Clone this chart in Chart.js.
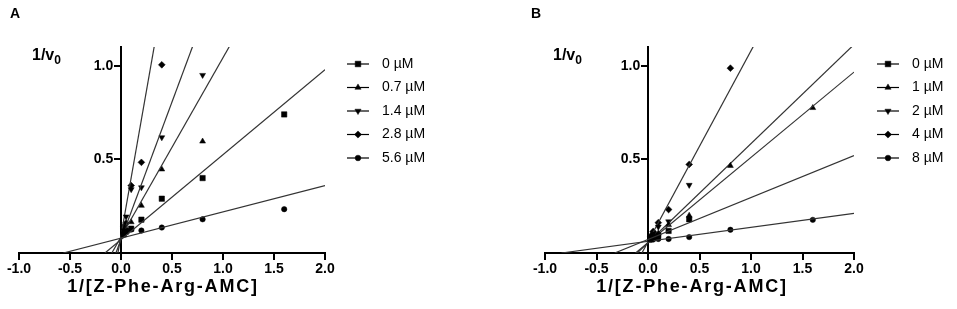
<!DOCTYPE html>
<html lang="en">
<head>
  <meta charset="UTF-8">
  <title>Lineweaver-Burk plots</title>
  <script src="https://cdn.jsdelivr.net/npm/chart.js"></script>
  <style>
    * { box-sizing: border-box; }
    body {
      margin: 0;
      width: 957px;
      height: 309px;
      background: white;
      position: relative;
      overflow: hidden;
      font-family: Arial, "Liberation Sans", Helvetica, sans-serif;
      color: #000;
    }
    canvas { position: absolute; top: 0; }
    #chartA { left: 0; }
    #chartB { left: 478px; }
    .txt {
      position: absolute;
      font-weight: bold;
      white-space: nowrap;
      line-height: 1;
    }
    .panel { font-size: 14px; }
    .ylab { font-size: 16px; }
    .ylab span { font-size: 12px; position: relative; top: 4px; }
    .xlab { font-size: 18px; letter-spacing: 1.8px; transform: translateX(-50%); }
  </style>
</head>
<body>
  <canvas id="chartA" width="478" height="309"></canvas>
  <canvas id="chartB" width="479" height="309"></canvas>

  <div class="txt panel" style="left:10px; top:6px;">A</div>
  <div class="txt panel" style="left:531px; top:6px;">B</div>
  <div class="txt ylab" style="left:32px; top:47px;">1/v<span>0</span></div>
  <div class="txt ylab" style="left:553px; top:47px;">1/v<span>0</span></div>
  <div class="txt xlab" style="left:163px; top:277px;">1/[Z-Phe-Arg-AMC]</div>
  <div class="txt xlab" style="left:692px; top:277px;">1/[Z-Phe-Arg-AMC]</div>

  <script>
    // 1/[S] values (substrate dilution series)
    const invSubstrate = [0.025, 0.05, 0.1, 0.2, 0.4, 0.8, 1.6];
    const xTicks = [-1.0, -0.5, 0.0, 0.5, 1.0, 1.5, 2.0];
    const yTicks = [0.5, 1.0];

    // panel A
    const labelsA = ['0 µM', '0.7 µM', '1.4 µM', '2.8 µM', '5.6 µM'];
    const a0   = [0.10, 0.115, 0.13, 0.178, 0.29, 0.40, 0.74];
    const a07  = [0.11, 0.13, 0.165, 0.253, 0.447, 0.596];
    const a14  = [0.12, 0.194, 0.34, 0.35, 0.617, 0.95];
    const a28  = [0.14, 0.16, 0.36, 0.484, 1.005];
    const a56  = [0.11, 0.12, 0.125, 0.12, 0.136, 0.18, 0.234];
    const slopesA = [0.454, 0.957, 1.467, 3.1, 0.1403];
    const interceptsA = [0.0713, 0.086, 0.073, 0.093, 0.0794];

    // panel B
    const labelsB = ['0 µM', '1 µM', '2 µM', '4 µM', '8 µM'];
    const b0 = [0.075, 0.085, 0.095, 0.118, 0.18];
    const b1 = [0.08, 0.095, 0.105, 0.15, 0.20, 0.466, 0.775];
    const b2 = [0.085, 0.10, 0.14, 0.168, 0.363];
    const b4 = [0.09, 0.115, 0.162, 0.232, 0.473, 0.987];
    const b8 = [0.07, 0.072, 0.075, 0.075, 0.085, 0.124, 0.177];
    const slopesB = [0.2238, 0.4555, 0.529, 1.02, 0.0746];
    const interceptsB = [0.0723, 0.055, 0.055, 0.06, 0.0627];

    const markers = ['rect', 'triangle', 'triangle', 'rectRot', 'circle'];
    const rotations = [0, 0, 180, 0, 0];
    const markerRadius = [3.8, 3.4, 3.4, 3.4, 2.7];
    const X_MAX = 2.0;
    const FONT = 'Arial, "Liberation Sans", sans-serif';

    function buildDatasets(labels, series, slopes, intercepts) {
      const sets = [];
      series.forEach((ys, i) => {
        const b = intercepts[i], m = slopes[i];
        // fitted line from the x-intercept to the right edge
        sets.push({
          type: 'line',
          data: [{ x: -b / m, y: 0 }, { x: X_MAX, y: b + m * X_MAX }],
          borderColor: '#333',
          borderWidth: 1.2,
          pointRadius: 0,
          fill: false
        });
        sets.push({
          type: 'scatter',
          label: labels[i],
          data: ys.map((y, j) => ({ x: invSubstrate[j], y: y })),
          pointStyle: markers[i],
          rotation: rotations[i],
          pointRadius: markerRadius[i],
          backgroundColor: '#000',
          borderColor: '#000',
          borderWidth: 0.5
        });
      });
      return sets;
    }

    const sideLegend = {
      id: 'sideLegend',
      afterDraw(chart, args, opts) {
        const ctx = chart.ctx;
        ctx.save();
        opts.labels.forEach((label, i) => {
          const y = opts.top + i * opts.gap;
          ctx.strokeStyle = '#000';
          ctx.lineWidth = 1.2;
          ctx.beginPath();
          ctx.moveTo(opts.left, y);
          ctx.lineTo(opts.left + 22, y);
          ctx.stroke();
          ctx.fillStyle = '#000';
          ctx.lineWidth = 0.5;
          Chart.helpers.drawPoint(ctx, {
            pointStyle: markers[i], rotation: rotations[i],
            radius: markerRadius[i] * 1.05, borderWidth: 0.5
          }, opts.left + 11, y);
          ctx.font = '14px ' + FONT;
          ctx.textBaseline = 'middle';
          ctx.textAlign = 'left';
          ctx.fillText(label, opts.left + 35, y);
        });
        ctx.restore();
      }
    };

    function makeChart(id, labels, series, slopes, intercepts, padding, legendLeft) {
      return new Chart(document.getElementById(id), {
        data: { datasets: buildDatasets(labels, series, slopes, intercepts) },
        plugins: [sideLegend],
        options: {
          responsive: false,
          animation: false,
          layout: { padding: padding },
          plugins: {
            legend: { display: false },
            tooltip: { enabled: false },
            sideLegend: { labels: labels, left: legendLeft, top: 64, gap: 23.5 }
          },
          scales: {
            x: {
              type: 'linear',
              min: -1, max: 2,
              position: { y: 0 },
              border: { color: '#000', width: 2 },
              grid: { drawOnChartArea: false, color: '#000', lineWidth: 2, tickLength: 6 },
              afterBuildTicks: axis => { axis.ticks = xTicks.map(v => ({ value: v })); },
              ticks: {
                color: '#000',
                padding: 2,
                maxRotation: 0,
                font: { family: FONT, size: 14, weight: 'bold' },
                callback: v => Number(v).toFixed(1)
              }
            },
            y: {
              type: 'linear',
              min: 0, max: 1.1,
              position: { x: 0 },
              border: { color: '#000', width: 2 },
              grid: { drawOnChartArea: false, color: '#000', lineWidth: 2, tickLength: 6 },
              afterBuildTicks: axis => { axis.ticks = yTicks.map(v => ({ value: v })); },
              ticks: {
                color: '#000',
                font: { family: FONT, size: 14, weight: 'bold' },
                // labels of a centred axis sit on the axis line, so pad them with spaces
                callback: v => Number(v).toFixed(1) + '  '
              }
            }
          }
        }
      });
    }

    makeChart('chartA', labelsA, [a0, a07, a14, a28, a56], slopesA, interceptsA,
      { left: 19, right: 153, top: 47, bottom: 56 }, 347);
    makeChart('chartB', labelsB, [b0, b1, b2, b4, b8], slopesB, interceptsB,
      { left: 67, right: 103, top: 47, bottom: 56 }, 399);
  </script>
</body>
</html>
